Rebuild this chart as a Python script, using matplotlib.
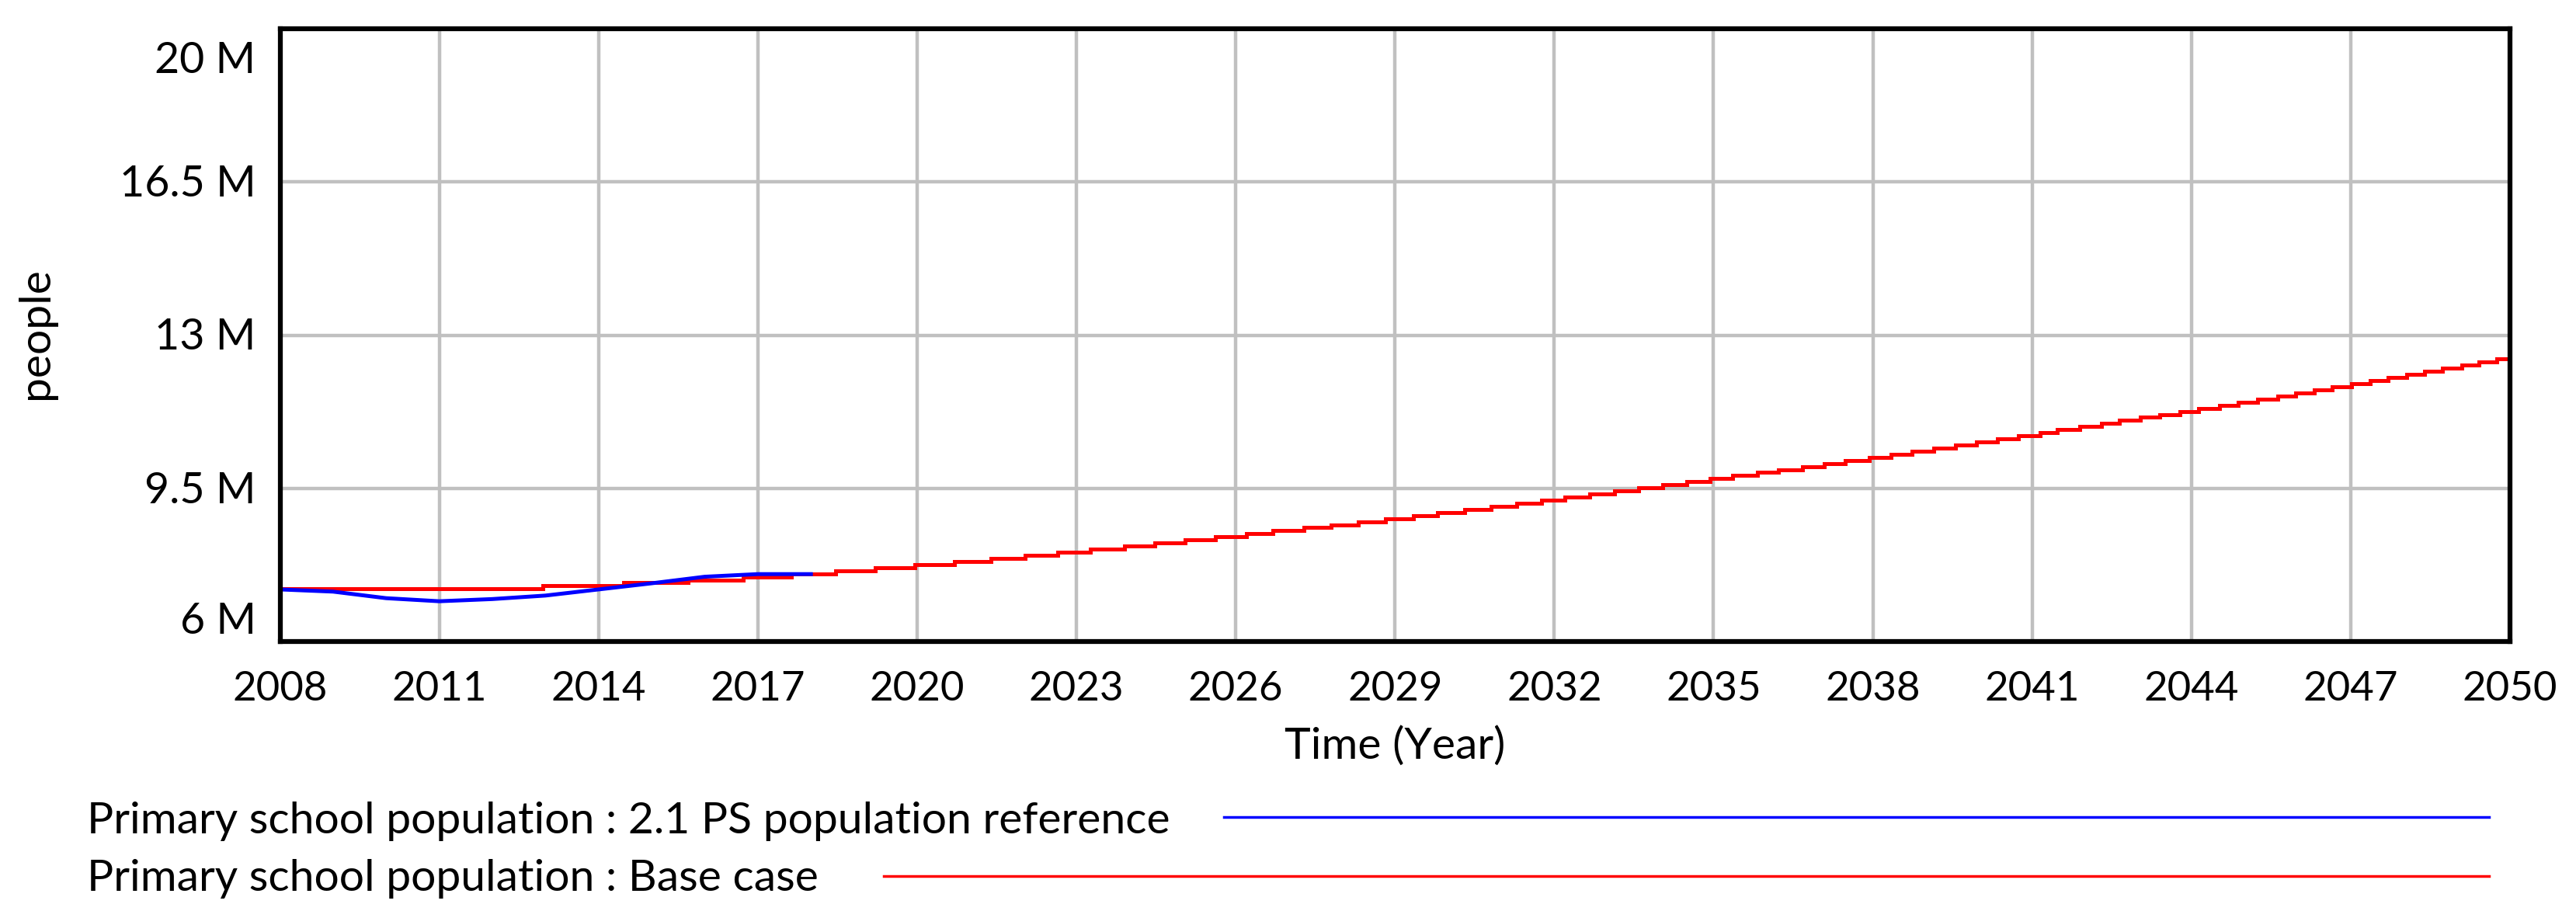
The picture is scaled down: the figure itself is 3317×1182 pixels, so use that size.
import matplotlib
matplotlib.use('Agg')
import matplotlib.pyplot as plt
from matplotlib.lines import Line2D

plt.rcParams['font.family'] = ['Lato', 'DejaVu Sans']

# Base case: staircase as drawn (start year of each level, level in millions)
red_t = [2008.00, 2012.95, 2014.47, 2015.68, 2016.72, 2017.63, 2018.47, 2019.21,
         2019.96, 2020.70, 2021.39, 2022.03, 2022.65, 2023.27, 2023.90, 2024.47,
         2025.05, 2025.62, 2026.20, 2026.70, 2027.28, 2027.80, 2028.31, 2028.82,
         2029.35, 2029.80, 2030.32, 2030.81, 2031.29, 2031.76, 2032.20, 2032.67,
         2033.13, 2033.59, 2034.04, 2034.49, 2034.94, 2035.36, 2035.82, 2036.22,
         2036.68, 2037.08, 2037.48, 2037.93, 2038.34, 2038.74, 2039.14, 2039.55,
         2039.95, 2040.35, 2040.74, 2041.15, 2041.48, 2041.90, 2042.30, 2042.64,
         2043.04, 2043.40, 2043.79, 2044.14, 2044.53, 2044.88, 2045.25, 2045.62,
         2045.96, 2046.31, 2046.65, 2047.02, 2047.37, 2047.71, 2048.05, 2048.39,
         2048.73, 2049.09, 2049.41, 2049.75]
red_v = [7.20, 7.27, 7.34, 7.41, 7.48, 7.55, 7.62, 7.69,
         7.76, 7.83, 7.90, 7.97, 8.04, 8.11, 8.18, 8.25,
         8.32, 8.39, 8.46, 8.53, 8.60, 8.67, 8.74, 8.81,
         8.88, 8.95, 9.02, 9.09, 9.16, 9.23, 9.30, 9.37,
         9.44, 9.51, 9.58, 9.65, 9.72, 9.79, 9.86, 9.93,
         10.00, 10.07, 10.14, 10.21, 10.28, 10.35, 10.42, 10.49,
         10.56, 10.63, 10.70, 10.77, 10.84, 10.91, 10.98, 11.05,
         11.12, 11.19, 11.26, 11.33, 11.40, 11.47, 11.54, 11.61,
         11.68, 11.75, 11.82, 11.89, 11.96, 12.03, 12.10, 12.17,
         12.24, 12.31, 12.38, 12.45]
t_end = 2050

# PS population reference (millions)
blue_t = [2008, 2009, 2010, 2011, 2012, 2013, 2014, 2015, 2016, 2017, 2018]
blue_v = [7.19, 7.14, 6.99, 6.92, 6.97, 7.05, 7.19, 7.33, 7.48, 7.54, 7.54]

x_ticks = list(range(2008, 2051, 3))
y_ticks = [6, 9.5, 13, 16.5, 20]
y_labels = ['6 M', '9.5 M', '13 M', '16.5 M', '20 M']

legend_labels = ['Primary school population : 2.1 PS population reference',
                 'Primary school population : Base case']

W, H = 3317, 1182
fig = plt.figure(figsize=(W / 100, H / 100), dpi=100)
ax = fig.add_axes([360.5 / W, 1 - 826 / H, (3232 - 360.5) / W, (826 - 37) / H])

ax.stairs(red_v, red_t + [t_end], baseline=None, color='#ff0000', lw=3.6, zorder=3)
ax.plot(blue_t, blue_v, color='#0000ff', lw=3.6, zorder=4)

ax.set_xlim(2008, 2050)
ax.set_ylim(6, 20)
ax.set_xticks(x_ticks)
ax.set_yticks(y_ticks)
ax.set_xticklabels([])
ax.set_yticklabels([])
ax.tick_params(length=0)
ax.grid(True, color='#c0c0c0', lw=3.2, zorder=1)
for s in ax.spines.values():
    s.set_linewidth(4.5)
    s.set_zorder(5)

fs_tick = 38
fs_ytick = 40
fs_text = 41
px = 0.72  # points per pixel at 100 dpi

for yr in x_ticks:
    ax.annotate(str(yr), xy=(yr, 0), xycoords=('data', 'axes fraction'),
                xytext=(0, -76 * px), textcoords='offset points',
                ha='center', va='baseline', fontsize=fs_tick)

for v, lab in zip(y_ticks, y_labels):
    if v == y_ticks[-1]:
        off = -57
    elif v == y_ticks[0]:
        off = 10
    else:
        off = -19
    ax.annotate(lab, xy=(0, v), xycoords=('axes fraction', 'data'),
                xytext=(-31 * px, off * px), textcoords='offset points',
                ha='right', va='baseline', fontsize=fs_ytick)

fig.text(1796 / W, 1 - 977 / H, 'Time (Year)', ha='center', va='baseline', fontsize=fs_text)
fig.text(47 / W, 1 - 429 / H, 'people', rotation=90, ha='center', va='center', fontsize=fs_text)

# legend rows
fig.text(112 / W, 1 - 1073 / H, legend_labels[0], ha='left', va='baseline', fontsize=fs_text)
fig.text(112 / W, 1 - 1147 / H, legend_labels[1], ha='left', va='baseline', fontsize=fs_text)
fig.add_artist(Line2D([1576 / W, 3205 / W], [1 - 1052 / H, 1 - 1052 / H],
                      color='#0000ff', lw=2.5))
fig.add_artist(Line2D([1138 / W, 3205 / W], [1 - 1128 / H, 1 - 1128 / H],
                      color='#ff0000', lw=2.5))

fig.savefig('out.png', dpi=100, facecolor='white')
